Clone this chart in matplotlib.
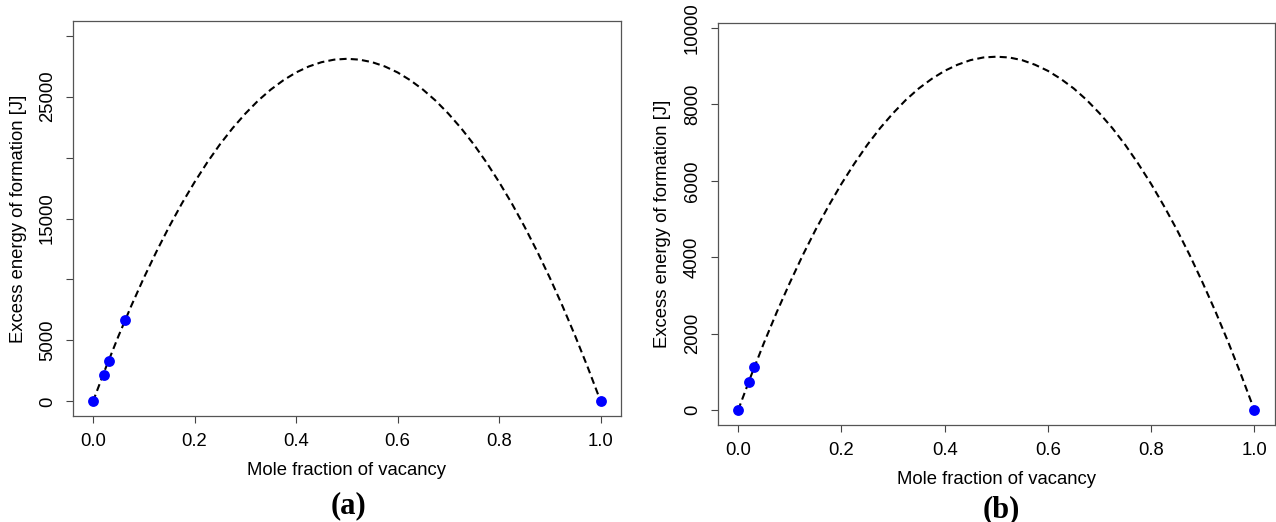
import matplotlib
matplotlib.use("Agg")
import matplotlib.pyplot as plt

curveX = [0.0, 0.025, 0.05, 0.075, 0.1, 0.125, 0.15, 0.175, 0.2, 0.225, 0.25,
          0.275, 0.3, 0.325, 0.35, 0.375, 0.4, 0.425, 0.45, 0.475, 0.5,
          0.525, 0.55, 0.575, 0.6, 0.625, 0.65, 0.675, 0.7, 0.725, 0.75,
          0.775, 0.8, 0.825, 0.85, 0.875, 0.9, 0.925, 0.95, 0.975, 1.0]
curveA = [0, 2740, 5340, 7800, 10120, 12290, 14330, 16230, 17980, 19600, 21080,
          22410, 23600, 24660, 25570, 26340, 26980, 27470, 27820, 28030, 28100,
          28030, 27820, 27470, 26980, 26340, 25570, 24660, 23600, 22410, 21080,
          19600, 17980, 16230, 14330, 12290, 10120, 7800, 5340, 2740, 0]
curveB = [0, 900, 1760, 2570, 3330, 4050, 4720, 5340, 5920, 6450, 6940,
          7380, 7770, 8120, 8420, 8670, 8880, 9040, 9160, 9230, 9250,
          9230, 9160, 9040, 8880, 8670, 8420, 8120, 7770, 7380, 6940,
          6450, 5920, 5340, 4720, 4050, 3330, 2570, 1760, 900, 0]

# measured points
pointsXA = [0.0, 0.0208, 0.03125, 0.0625, 1.0]
pointsYA = [0, 2190, 3310, 6650, 0]
pointsXB = [0.0, 0.0208, 0.03125, 1.0]
pointsYB = [0, 725, 1134, 0]

xTicks = [0, 0.2, 0.4, 0.6, 0.8, 1.0]
xTickLabels = ["0.0", "0.2", "0.4", "0.6", "0.8", "1.0"]
yTicksA = [0, 5000, 10000, 15000, 20000, 25000, 30000]
yTickLabelsA = ["0", "5000", "", "15000", "", "25000", ""]
yTicksB = [0, 2000, 4000, 6000, 8000, 10000]
yTickLabelsB = ["0", "2000", "4000", "6000", "8000", "10000"]

plt.rcParams["font.family"] = ["Liberation Sans", "DejaVu Sans"]

W, H = 1276, 522
fig = plt.figure(figsize=(W / 100, H / 100), dpi=100)

def box(x0, y0, x1, y1):
    return [x0 / W, (H - y1) / H, (x1 - x0) / W, (y1 - y0) / H]

def panel(rect, ylim, curveY, px, py, yTicks, yLabels):
    ax = fig.add_axes(rect)
    ax.plot(curveX, curveY, color="black", lw=1.5, linestyle=(0, (3.4, 2.0)), zorder=2)
    ax.plot(px, py, "o", color="#0000ff", markersize=7.8, markeredgewidth=0, zorder=3)
    ax.set_xlim(-0.04, 1.04)
    ax.set_ylim(*ylim)
    ax.set_xticks(xTicks)
    ax.set_xticklabels(xTickLabels)
    ax.set_yticks(yTicks)
    ax.set_yticklabels(yLabels, rotation=90, va="center")
    ax.tick_params(direction="out", length=5, width=0.8, color="#444444",
                   labelsize=13.3, pad=7)
    for s in ax.spines.values():
        s.set_color("#555555")
        s.set_linewidth(0.9)
    ax.set_xlabel("Mole fraction of vacancy", fontsize=13.3, labelpad=9)
    ax.set_ylabel("Excess energy of formation [J]", fontsize=13.3, labelpad=9)
    return ax

axA = panel(box(72.7, 21, 621, 416), (-1200, 31200), curveA,
            pointsXA, pointsYA, yTicksA, yTickLabelsA)
axB = panel(box(717.5, 22.7, 1275, 425), (-390, 10140), curveB,
            pointsXB, pointsYB, yTicksB, yTickLabelsB)

fig.text(349 / W, 1 - 506 / H, "(a)", fontsize=22, fontweight="bold",
         family="Liberation Serif", ha="center", va="center")
fig.text(1001 / W, 1 - 510 / H, "(b)", fontsize=22, fontweight="bold",
         family="Liberation Serif", ha="center", va="center")

fig.savefig("out.png", dpi=100)
